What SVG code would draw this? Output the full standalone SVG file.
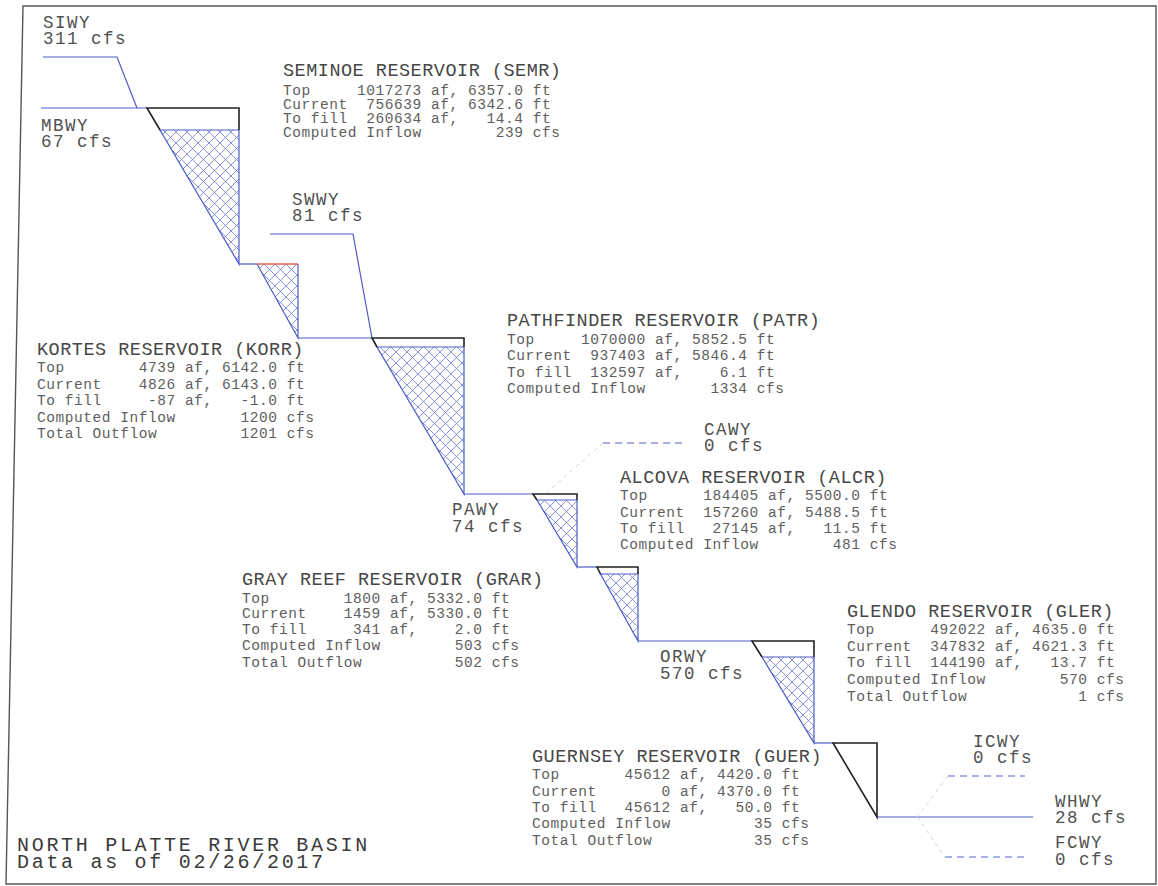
<svg xmlns="http://www.w3.org/2000/svg" width="1158" height="886" viewBox="0 0 1158 886">
<style>
text { font-family: "Liberation Mono", "Courier New", monospace; white-space: pre; }
.st { font-size: 17.5px; letter-spacing: 1.5px; fill: #505050; }
.tt { font-size: 18.5px; letter-spacing: 0.5px; fill: #474747; }
.dt { font-size: 14.5px; letter-spacing: 0.55px; fill: #5e5e5e; }
.ft { font-size: 20px; letter-spacing: 2.7px; fill: #3a3a3a; }
.blk { fill: none; stroke: #222; stroke-width: 1.6; }
.blu { fill: none; stroke: #4c5cc8; stroke-width: 1.2; }
.red { fill: none; stroke: #e0604c; stroke-width: 1.4; }
.dsh { fill: none; stroke: #5262c8; stroke-width: 1.2; stroke-dasharray: 7 5; }
.fnt { fill: none; stroke: #d4d6de; stroke-width: 1; stroke-dasharray: 4 4; }
.hat { fill: url(#hatch); stroke: none; }
</style>
<defs>
<pattern id="hatch" width="11" height="11" patternUnits="userSpaceOnUse">
<path d="M0,0 L11,11 M11,0 L0,11" stroke="#6272d4" stroke-width="0.75" fill="none"/>
</pattern>
</defs>
<rect x="0" y="0" width="1158" height="886" fill="#fff"/>
<polygon id="border" points="23,6 1156,6 1156,884 6,884" fill="none" stroke="#555" stroke-width="1.4"/>

<g id="connectors">
<polyline class="blu" points="43,57 117,57 137,108"/>
<polyline class="blu" points="41,108 147,108"/>
<polyline class="blu" points="239,264 257,264"/>
<polyline class="blu" points="298,338 372,338"/>
<polyline class="blu" points="270,234 353,234 372,338"/>
<polyline class="blu" points="464,494 533,494"/>
<polyline class="dsh" points="603,443 683,443"/>
<polyline class="fnt" points="603,443 545,494"/>
<polyline class="blu" points="577,567 597,567"/>
<polyline class="blu" points="638,641 752,641"/>
<polyline class="blu" points="814,743 833,743"/>
<polyline class="blu" points="877,817 1033,817"/>
<polyline class="dsh" points="948,776 1025,776"/>
<polyline class="fnt" points="948,776 917,817"/>
<polyline class="dsh" points="945,857 1025,857"/>
<polyline class="fnt" points="917,817 945,857"/>
</g>

<g id="SEMR">
<polygon class="hat" points="160,130 239,130 239,264"/>
<polyline class="blu" points="239,130 160,130 239,264 239,130"/>
<polyline class="blk" points="160,130 147,108 239,108 239,130"/>
<text class="tt" x="283" y="76">SEMINOE RESERVOIR (SEMR)</text>
<text class="dt" x="283" y="95">Top     1017273 af, 6357.0 ft</text>
<text class="dt" x="283" y="109">Current  756639 af, 6342.6 ft</text>
<text class="dt" x="283" y="123">To fill  260634 af,   14.4 ft</text>
<text class="dt" x="283" y="137">Computed Inflow        239 cfs</text>
</g>

<g id="KORR">
<polygon class="hat" points="257,264 298,264 298,338"/>
<polyline class="blu" points="257,264 298,338 298,264"/>
<line class="red" x1="257" y1="264" x2="298" y2="264"/>
<text class="tt" x="37" y="355">KORTES RESERVOIR (KORR)</text>
<text class="dt" x="37" y="372">Top        4739 af, 6142.0 ft</text>
<text class="dt" x="37" y="389">Current    4826 af, 6143.0 ft</text>
<text class="dt" x="37" y="405">To fill     -87 af,   -1.0 ft</text>
<text class="dt" x="37" y="422">Computed Inflow       1200 cfs</text>
<text class="dt" x="37" y="438">Total Outflow         1201 cfs</text>
</g>

<g id="PATR">
<polygon class="hat" points="377,347 464,347 464,494"/>
<polyline class="blu" points="464,347 377,347 464,494 464,347"/>
<polyline class="blk" points="377,347 372,338 464,338 464,347"/>
<text class="tt" x="507" y="326">PATHFINDER RESERVOIR (PATR)</text>
<text class="dt" x="507" y="344">Top     1070000 af, 5852.5 ft</text>
<text class="dt" x="507" y="360">Current  937403 af, 5846.4 ft</text>
<text class="dt" x="507" y="377">To fill  132597 af,    6.1 ft</text>
<text class="dt" x="507" y="393">Computed Inflow       1334 cfs</text>
</g>

<g id="ALCR">
<polygon class="hat" points="537,500 577,500 577,567"/>
<polyline class="blu" points="577,500 537,500 577,567 577,500"/>
<polyline class="blk" points="537,500 533,494 577,494 577,500"/>
<text class="tt" x="620" y="483">ALCOVA RESERVOIR (ALCR)</text>
<text class="dt" x="620" y="500">Top      184405 af, 5500.0 ft</text>
<text class="dt" x="620" y="517">Current  157260 af, 5488.5 ft</text>
<text class="dt" x="620" y="533">To fill   27145 af,   11.5 ft</text>
<text class="dt" x="620" y="549">Computed Inflow        481 cfs</text>
</g>

<g id="GRAR">
<polygon class="hat" points="600.5,574 638,574 638,641"/>
<polyline class="blu" points="638,574 600.5,574 638,641 638,574"/>
<polyline class="blk" points="600.5,574 597,567 638,567 638,574"/>
<text class="tt" x="242" y="585">GRAY REEF RESERVOIR (GRAR)</text>
<text class="dt" x="242" y="603">Top        1800 af, 5332.0 ft</text>
<text class="dt" x="242" y="618">Current    1459 af, 5330.0 ft</text>
<text class="dt" x="242" y="634">To fill     341 af,    2.0 ft</text>
<text class="dt" x="242" y="650">Computed Inflow        503 cfs</text>
<text class="dt" x="242" y="667">Total Outflow          502 cfs</text>
</g>

<g id="GLER">
<polygon class="hat" points="762,657 814,657 814,743"/>
<polyline class="blu" points="814,657 762,657 814,743 814,657"/>
<polyline class="blk" points="762,657 752,641 814,641 814,657"/>
<text class="tt" x="847" y="617">GLENDO RESERVOIR (GLER)</text>
<text class="dt" x="847" y="634">Top      492022 af, 4635.0 ft</text>
<text class="dt" x="847" y="651">Current  347832 af, 4621.3 ft</text>
<text class="dt" x="847" y="667">To fill  144190 af,   13.7 ft</text>
<text class="dt" x="847" y="684">Computed Inflow        570 cfs</text>
<text class="dt" x="847" y="701">Total Outflow            1 cfs</text>
</g>

<g id="GUER">
<polygon class="blk" points="833,743 877,743 877,817"/>
<text class="tt" x="532" y="762">GUERNSEY RESERVOIR (GUER)</text>
<text class="dt" x="532" y="779">Top       45612 af, 4420.0 ft</text>
<text class="dt" x="532" y="796">Current       0 af, 4370.0 ft</text>
<text class="dt" x="532" y="812">To fill   45612 af,   50.0 ft</text>
<text class="dt" x="532" y="828">Computed Inflow         35 cfs</text>
<text class="dt" x="532" y="845">Total Outflow           35 cfs</text>
</g>

<g id="SIWY"><text class="st" x="43" y="28">SIWY</text><text class="st" x="43" y="44">311 cfs</text></g>
<g id="MBWY"><text class="st" x="41" y="131">MBWY</text><text class="st" x="41" y="147">67 cfs</text></g>
<g id="SWWY"><text class="st" x="292" y="205">SWWY</text><text class="st" x="292" y="221">81 cfs</text></g>
<g id="PAWY"><text class="st" x="452" y="515">PAWY</text><text class="st" x="452" y="532">74 cfs</text></g>
<g id="CAWY"><text class="st" x="704" y="435">CAWY</text><text class="st" x="704" y="451">0 cfs</text></g>
<g id="ORWY"><text class="st" x="660" y="662">ORWY</text><text class="st" x="660" y="679">570 cfs</text></g>
<g id="ICWY"><text class="st" x="973" y="747">ICWY</text><text class="st" x="973" y="763">0 cfs</text></g>
<g id="WHWY"><text class="st" x="1055" y="807">WHWY</text><text class="st" x="1055" y="823">28 cfs</text></g>
<g id="FCWY"><text class="st" x="1055" y="848">FCWY</text><text class="st" x="1055" y="865">0 cfs</text></g>

<g id="footer">
<text class="ft" x="17" y="851">NORTH PLATTE RIVER BASIN</text>
<text class="ft" x="17" y="868">Data as of 02/26/2017</text>
</g>
</svg>
